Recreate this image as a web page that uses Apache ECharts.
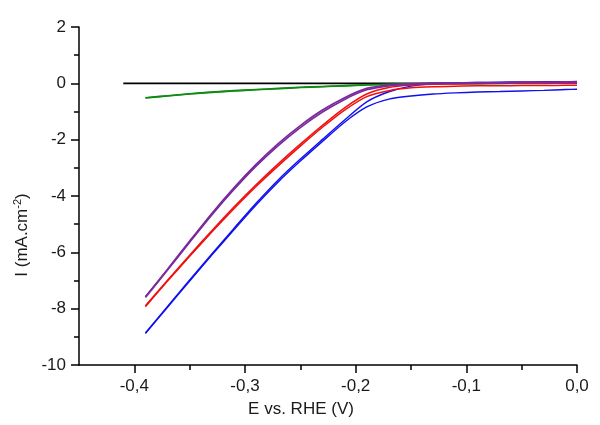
<!DOCTYPE html>
<html>
<head>
<meta charset="utf-8">
<script src="https://cdn.jsdelivr.net/npm/echarts@6/dist/echarts.min.js"></script>
<style>
html,body{margin:0;padding:0;background:#fff;}
#chart{width:600px;height:425px;}
</style>
</head>
<body>
<div id="chart"></div>
<script>
// Potential grid (V vs RHE)
const E = [-0.39,-0.37,-0.35,-0.33,-0.31,-0.29,-0.27,-0.25,-0.23,-0.21,-0.19,-0.17,-0.15,-0.13,-0.11,-0.09,-0.07,-0.05,-0.03,-0.01,0];
const E_black = [-0.41,-0.3,-0.2,-0.1,0];

// Currents (mA.cm-2), two scan branches per curve
const I_black = [0,0,0,0.01,0.02];
const I_greenA = [-0.52,-0.45,-0.38,-0.32,-0.27,-0.23,-0.19,-0.15,-0.12,-0.09,-0.06,-0.04,-0.03,-0.02,-0.01,-0.01,0,0,0,0.01,0.01];
const I_greenB = [-0.51,-0.44,-0.37,-0.31,-0.26,-0.22,-0.18,-0.14,-0.11,-0.08,-0.05,-0.03,-0.02,-0.01,0,0,0,0.01,0.01,0.01,0.02];
const I_blueA = [-8.88,-7.95,-7.02,-6.10,-5.20,-4.32,-3.50,-2.76,-2.06,-1.38,-0.84,-0.56,-0.45,-0.38,-0.34,-0.31,-0.29,-0.27,-0.25,-0.22,-0.21];
const I_blueB = [-8.86,-7.92,-6.98,-6.06,-5.15,-4.26,-3.43,-2.69,-1.99,-1.30,-0.66,-0.30,-0.10,-0.02,0.01,0.03,0.04,0.05,0.06,0.06,0.07];
const I_redA = [-7.93,-7.02,-6.14,-5.28,-4.45,-3.66,-2.93,-2.23,-1.56,-0.95,-0.47,-0.26,-0.16,-0.12,-0.10,-0.09,-0.09,-0.08,-0.08,-0.07,-0.07];
const I_redB = [-7.90,-6.99,-6.10,-5.23,-4.39,-3.60,-2.86,-2.16,-1.49,-0.87,-0.38,-0.15,-0.06,-0.03,-0.02,-0.01,0,0,0,0,0];
const I_purpleA = [-7.58,-6.60,-5.60,-4.62,-3.71,-2.88,-2.14,-1.50,-0.95,-0.51,-0.18,-0.06,-0.02,0,0.01,0.01,0.01,0.02,0.02,0.02,0.02];
const I_purpleB = [-7.60,-6.63,-5.64,-4.67,-3.77,-2.94,-2.21,-1.57,-1.02,-0.57,-0.23,-0.09,-0.04,0,0.02,0.03,0.03,0.04,0.04,0.05,0.05];

// Axis ticks
const xMajor = [-0.4,-0.3,-0.2,-0.1,0];
const xMinor = [-0.35,-0.25,-0.15,-0.05];

const FONT = "'Liberation Sans', Arial, sans-serif";
const TXT = '#1a1a1a';
const pair = (xs, ys) => xs.map((x, i) => [x, ys[i]]);

function line(xs, ys, color, width) {
  return {
    type: 'line', data: pair(xs, ys), xAxisIndex: 0, yAxisIndex: 0,
    showSymbol: false, symbol: 'none', smooth: 0.25,
    lineStyle: {color: color, width: width}, itemStyle: {color: color},
    animation: false, z: 3
  };
}

const chart = echarts.init(document.getElementById('chart'), null, {renderer: 'canvas'});
chart.setOption({
  backgroundColor: '#ffffff',
  animation: false,
  grid: {left: 79, right: 23, top: 27, bottom: 60, containLabel: false},
  xAxis: [{
    type: 'value', min: -0.45, max: 0,
    axisLine: {show: true, onZero: false, lineStyle: {color: '#000', width: 1.5}},
    axisTick: {show: true, inside: false, length: 8, customValues: xMajor, lineStyle: {color: '#000', width: 1.5}},
    axisLabel: {show: true, customValues: xMajor, margin: 13, fontSize: 17, color: TXT, fontFamily: FONT,
      formatter: v => v.toFixed(1).replace('.', ',')},
    splitLine: {show: false},
    name: 'E vs. RHE (V)', nameLocation: 'middle', nameGap: 36,
    nameTextStyle: {fontSize: 17, color: TXT, fontFamily: FONT, padding: [0, 54, 0, 0]}
  }, {
    type: 'value', min: -0.45, max: 0, position: 'bottom',
    axisLine: {show: false, onZero: false},
    axisTick: {show: true, inside: false, length: 5, customValues: xMinor, lineStyle: {color: '#000', width: 1.5}},
    axisLabel: {show: false},
    splitLine: {show: false}
  }],
  yAxis: {
    type: 'value', min: -10, max: 2, interval: 2,
    axisLine: {show: true, onZero: false, lineStyle: {color: '#000', width: 1.5}},
    axisTick: {show: true, inside: false, length: 8, lineStyle: {color: '#000', width: 1.5}},
    minorTick: {show: true, splitNumber: 2, length: 5, lineStyle: {color: '#000', width: 1.5}},
    axisLabel: {margin: 13, fontSize: 17, color: TXT, fontFamily: FONT},
    splitLine: {show: false},
    name: '{a|I (mA.cm}{s|-2}{a|)}', nameLocation: 'middle', nameGap: 46,
    nameTextStyle: {
      color: TXT, fontFamily: FONT, padding: [0, 78, 0, 0],
      rich: {
        a: {fontSize: 17, color: TXT, fontFamily: FONT},
        s: {fontSize: 11, color: TXT, fontFamily: FONT, verticalAlign: 'top', padding: [0, 0, 8, 0]}
      }
    }
  },
  series: [
    line(E_black, I_black, '#000000', 1.6),
    line(E, I_greenA, '#0f8a14', 1.6),
    line(E, I_greenB, '#0f8a14', 1.6),
    line(E, I_blueA, '#1010ee', 1.4),
    line(E, I_blueB, '#1010ee', 1.4),
    line(E, I_redA, '#f01010', 1.5),
    line(E, I_redB, '#f01010', 1.5),
    line(E, I_purpleA, '#7a2a9e', 1.7),
    line(E, I_purpleB, '#7a2a9e', 1.7)
  ]
});
</script>
</body>
</html>
